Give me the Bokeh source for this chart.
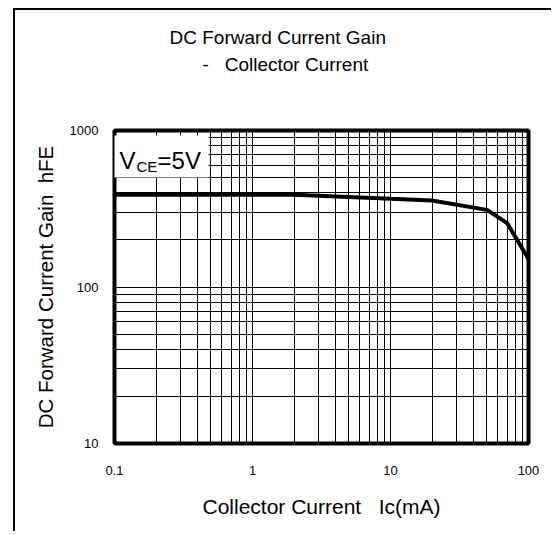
from bokeh.plotting import figure
from bokeh.models import FixedTicker, Title, Range1d, BoxAnnotation, Label
from bokeh.embed import file_html
from bokeh.resources import INLINE

# Data
ic_ma = [0.1, 2, 10, 20, 50, 70, 100]
hfe = [388, 388, 366, 357, 311, 256, 151]

x_major = [0.1, 1, 10, 100]
x_labels = ["0.1", "1", "10", "100"]
y_major = [10, 100, 1000]
y_labels = ["10", "100", "1000"]
mantissas = [2, 3, 4, 5, 6, 7, 8, 9]

NB = "\u00a0"
title_line1 = "DC Forward Current Gain"
title_line2 = "-" + NB * 3 + "Collector Current"
x_title = "Collector Current" + NB * 3 + "Ic(mA)"
y_title = "DC Forward Current Gain" + NB * 2 + "hFE"

FONT = "Liberation Sans"

x_minor = [d * m for d in x_major[:-1] for m in mantissas]
y_minor = [d * m for d in y_major[:-1] for m in mantissas]

p = figure(width=538, height=523, x_axis_type="log", y_axis_type="log",
           x_range=Range1d(0.1, 100), y_range=Range1d(10, 1000),
           output_backend="svg", toolbar_location=None,
           min_border_left=99, min_border_top=120, min_border_right=25, min_border_bottom=90)
p.styles = {"margin-left": "13px", "margin-top": "8px",
            "border-left": "2px solid black", "border-top": "2px solid black"}

p.outline_line_color = "black"
p.outline_line_width = 4
p.background_fill_color = "white"
p.border_fill_color = "white"

p.xaxis.ticker = FixedTicker(ticks=x_major, minor_ticks=x_minor)
p.yaxis.ticker = FixedTicker(ticks=y_major, minor_ticks=y_minor)
p.xaxis.major_label_overrides = {v: s for v, s in zip(x_major, x_labels)}
p.yaxis.major_label_overrides = {v: s for v, s in zip(y_major, y_labels)}

for ax in (p.xaxis, p.yaxis):
    ax.axis_line_color = None
    ax.major_tick_line_color = None
    ax.minor_tick_line_color = None
    ax.major_label_text_font = FONT
    ax.major_label_text_font_size = "13px"
    ax.major_label_text_color = "black"
    ax.axis_label_text_font = FONT
    ax.axis_label_text_font_style = "normal"
    ax.axis_label_text_color = "black"

p.xaxis.axis_label_text_font_size = "21px"
p.yaxis.axis_label_text_font_size = "20.5px"
p.xaxis.major_label_standoff = 16
p.xaxis.axis_label_standoff = 17
p.yaxis.major_label_standoff = 10
p.yaxis.axis_label_standoff = 10
p.xaxis.axis_label = x_title
p.yaxis.axis_label = y_title

for g in (p.xgrid, p.ygrid):
    g.grid_line_color = "black"
    g.grid_line_width = 1
    g.grid_line_alpha = 1
    g.minor_grid_line_color = "black"
    g.minor_grid_line_width = 1
    g.minor_grid_line_alpha = 1

p.line(ic_ma, hfe, line_color="black", line_width=4)

# VCE label with white background box (drawn above the frame outline)
p.add_layout(BoxAnnotation(left=0.092, right=0.48, top=929, bottom=501,
                           fill_color="white", fill_alpha=1, line_color=None, level="overlay"))
p.add_layout(Label(x=0.1087, y=643, text="V", text_font=FONT, text_font_size="24px",
                   text_baseline="middle", text_color="black", level="overlay"))
p.add_layout(Label(x=0.1443, y=589, text="CE", text_font=FONT, text_font_size="15px",
                   text_baseline="middle", text_color="black", level="overlay"))
p.add_layout(Label(x=0.205, y=643, text="=5V", text_font=FONT, text_font_size="24px",
                   text_baseline="middle", text_color="black", level="overlay"))

# Two-line title: spacer nearest the frame, then line 2, then line 1
p.title = None
spacer = Title(text=" ", text_font_size="2px", text_color="white", standoff=52)
t2 = Title(text=title_line2, text_font=FONT, text_font_size="19px", text_font_style="normal",
           align="left", offset=88, standoff=0, text_color="black")
t1 = Title(text=title_line1, text_font=FONT, text_font_size="19px", text_font_style="normal",
           align="left", offset=55, standoff=8, text_color="black")
p.add_layout(spacer, "above")
p.add_layout(t2, "above")
p.add_layout(t1, "above")

open("out.html", "w").write(file_html(p, INLINE))
